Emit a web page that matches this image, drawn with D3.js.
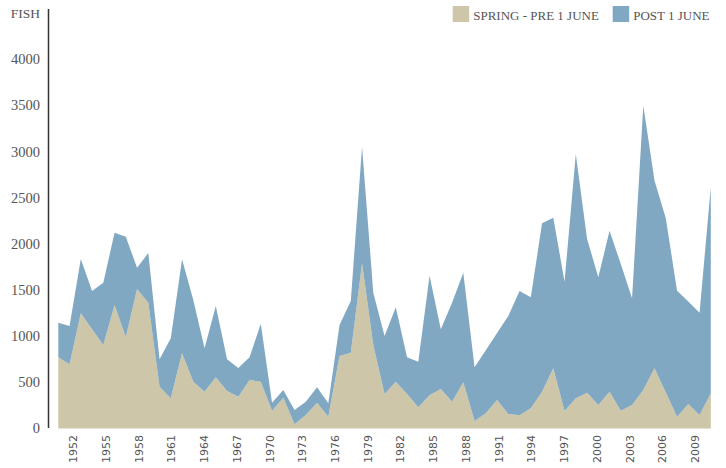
<!DOCTYPE html>
<html>
<head>
<meta charset="utf-8">
<script src="https://cdn.jsdelivr.net/npm/d3@7"></script>
<style>
  body { margin: 0; background: #fff; }
  svg { display: block; }
</style>
</head>
<body>
<div id="chart"></div>
<script>
"use strict";

// Data, one value per season
let years = d3.range(1951, 2010);

let spring = [
    772, 696, 1249, 1077, 905, 1339, 989, 1512, 1364, 453,
    327, 815, 507, 399, 555, 407, 345, 526, 507, 193,
    334, 45, 146, 280, 128, 786, 822, 1791, 905, 374,
    507, 374, 230, 360, 428, 291, 501, 81, 165, 309,
    157, 143, 219, 399, 653, 190, 327, 388, 255, 399,
    193, 255, 417, 653, 390, 128, 266, 146, 382
];

let post = [
    375, 415, 588, 414, 675, 783, 1090, 231, 538, 297,
    651, 1019, 886, 470, 773, 343, 311, 246, 629, 87,
    83, 155, 144, 167, 145, 336, 560, 1264, 567, 629,
    807, 398, 494, 1297, 647, 1073, 1188, 582, 683, 726,
    1063, 1348, 1203, 1825, 1632, 1401, 2649, 1669, 1384, 1745,
    1589, 1156, 3082, 2033, 1889, 1366, 1111, 1109, 2233
];

let seriesKeys = ["spring", "post"];
let seriesLabels = ["SPRING - PRE 1 JUNE", "POST 1 JUNE"];
let seriesColors = ["#cdc6a9", "#81a8c2"];

let yTicks = [0, 500, 1000, 1500, 2000, 2500, 3000, 3500, 4000];
let xTickYears = d3.range(1952, 2010, 3);

// Canvas
let svgWidth = 726;
let svgHeight = 468;

let svg = d3.select("#chart")
    .append("svg")
    .attr("width", svgWidth)
    .attr("height", svgHeight);

let table = years.map((y, i) => ({ year: y, spring: spring[i], post: post[i] }));
let stacked = d3.stack().keys(seriesKeys)(table);

// Scales
let xScale = d3.scaleLinear()
    .domain([1951, 2009])
    .range([58.3, 710.8]);

// tick labels sit on a slightly tighter spacing than the area points
let xTickScale = d3.scaleLinear()
    .domain([1951, 2009])
    .range([62.3, 695.3]);

let yScale = d3.scaleLinear()
    .domain([0, 4000])
    .range([428.5, 59.5]);

let color = d3.scaleOrdinal().domain(seriesKeys).range(seriesColors);

// Areas
let area = d3.area()
    .x(d => xScale(d.data.year))
    .y0(d => yScale(d[0]))
    .y1(d => yScale(d[1]));

svg.selectAll("path.layer")
    .data(stacked)
    .join("path")
    .attr("class", "layer")
    .attr("fill", d => color(d.key))
    .attr("d", area);

// Y axis line
svg.append("line")
    .attr("x1", 48.5)
    .attr("x2", 48.5)
    .attr("y1", 9)
    .attr("y2", 428)
    .attr("stroke", "#333")
    .attr("stroke-width", 1.5);

// Y tick labels
svg.selectAll("text.ytick")
    .data(yTicks)
    .join("text")
    .attr("class", "ytick")
    .attr("x", 40)
    .attr("y", d => yScale(d))
    .attr("dy", "0.33em")
    .attr("text-anchor", "end")
    .attr("fill", "#555")
    .style("font-family", "'Liberation Serif', 'DejaVu Serif', serif")
    .style("font-size", "14.5px")
    .text(d => d);

svg.append("text")
    .attr("x", 40)
    .attr("y", 17.5)
    .attr("text-anchor", "end")
    .attr("fill", "#555")
    .style("font-family", "'Liberation Serif', 'DejaVu Serif', serif")
    .style("font-size", "13.5px")
    .text("FISH");

// X tick labels, rotated
svg.selectAll("text.xtick")
    .data(xTickYears)
    .join("text")
    .attr("class", "xtick")
    .attr("transform", d => `translate(${xTickScale(d)},435) rotate(-90)`)
    .attr("dy", "0.35em")
    .attr("text-anchor", "end")
    .attr("fill", "#555")
    .style("font-family", "'DejaVu Sans', sans-serif")
    .style("font-size", "11px")
    .text(d => d);

// Legend
let legendX = [452.7, 612.7];
seriesKeys.forEach((k, i) => {
    svg.append("rect")
        .attr("x", legendX[i])
        .attr("y", 6)
        .attr("width", 16.5)
        .attr("height", 16)
        .attr("fill", color(k));

    svg.append("text")
        .attr("x", legendX[i] + 20.5)
        .attr("y", 20)
        .attr("fill", "#555")
        .style("font-family", "'Liberation Serif', 'DejaVu Serif', serif")
        .style("font-size", "13px")
        .text(seriesLabels[i]);
});
</script>
</body>
</html>
